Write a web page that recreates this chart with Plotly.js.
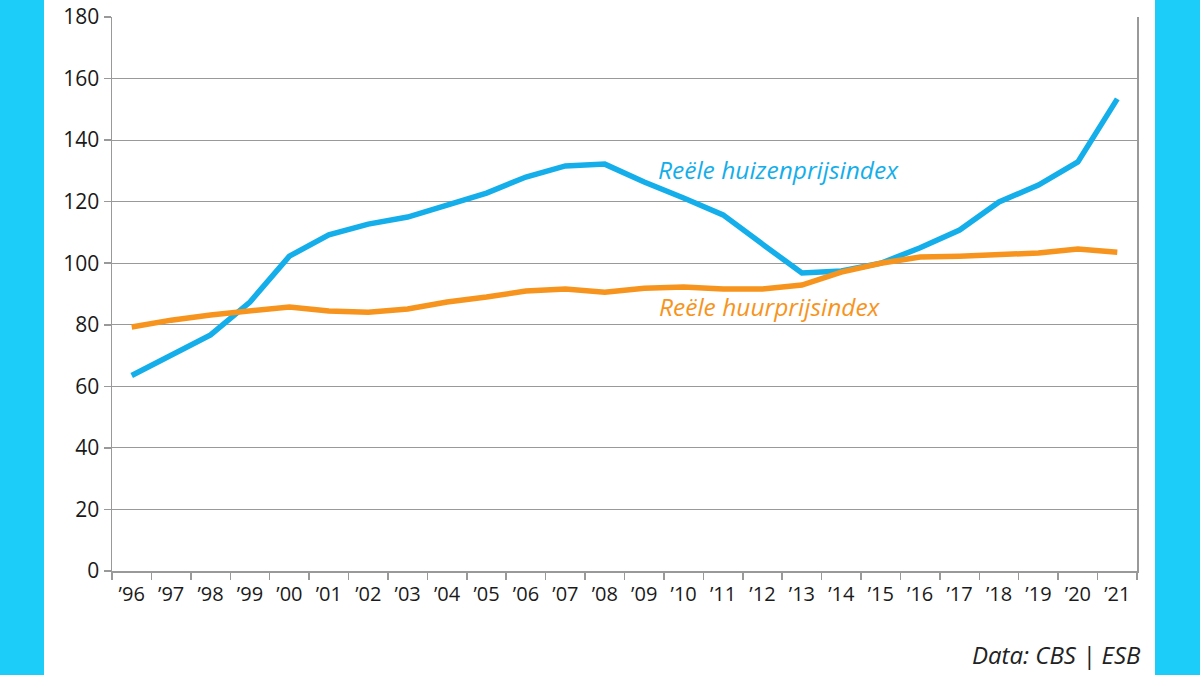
<!DOCTYPE html>
<html>
<head>
<meta charset="utf-8">
<script src="https://cdn.plot.ly/plotly-3.0.1.min.js"></script>
<style>
  html, body { margin: 0; padding: 0; background: #ffffff; }
  #wrap { position: relative; width: 1200px; height: 675px; overflow: hidden; }
  #chart { position: absolute; left: 0; top: 0; width: 1200px; height: 675px; }
  .band { position: absolute; top: 0; height: 675px; background: #1ccdfa; }
</style>
</head>
<body>
<div id="wrap">
  <div id="chart"></div>
  <div class="band" style="left:0; width:44px;"></div>
  <div class="band" style="left:1155px; width:45px;"></div>
</div>
<script>
const years = ["’96","’97","’98","’99","’00","’01","’02","’03","’04","’05","’06","’07","’08","’09","’10","’11","’12","’13","’14","’15","’16","’17","’18","’19","’20","’21"];
const huizenprijs = [63.5, 70, 76.7, 87.4, 102.3, 109.2, 112.7, 115, 119, 122.8, 128, 131.6, 132.2, 126.4, 121.2, 115.7, 106.2, 96.8, 97.5, 100, 105, 110.8, 119.9, 125.4, 132.9, 153.4];
const huurprijs = [79.3, 81.5, 83.2, 84.5, 85.8, 84.5, 84.1, 85.1, 87.4, 89, 91, 91.6, 90.6, 91.9, 92.3, 91.6, 91.6, 92.9, 97.1, 100, 102, 102.3, 103, 103.3, 104.6, 103.6];
const yTicks = [0, 20, 40, 60, 80, 100, 120, 140, 160, 180];

const blue = '#14aeea';
const orange = '#f7941d';

const traces = [
  { x: years, y: huizenprijs, type: 'scatter', mode: 'lines', name: 'Reële huizenprijsindex',
    line: { color: blue, width: 5.5 } },
  { x: years, y: huurprijs, type: 'scatter', mode: 'lines', name: 'Reële huurprijsindex',
    line: { color: orange, width: 5.5 } }
];

const layout = {
  width: 1200, height: 675,
  margin: { l: 112, r: 63, t: 17, b: 104 },
  paper_bgcolor: '#ffffff', plot_bgcolor: '#ffffff',
  showlegend: false,
  font: { family: 'Open Sans, sans-serif', color: '#1a1a1a' },
  xaxis: {
    type: 'category', range: [-0.5, 25.5],
    tickson: 'boundaries', ticks: 'outside', ticklen: 7, tickcolor: '#999999', tickwidth: 1.5,
    ticklabelstandoff: 4,
    showline: true, linecolor: '#999999', linewidth: 1.5,
    showgrid: false, zeroline: false,
    tickfont: { size: 20, color: '#1a1a1a' },
    fixedrange: true
  },
  yaxis: {
    range: [0, 180], tickvals: yTicks, ticktext: yTicks.map(String),
    ticks: 'outside', ticklen: 7, tickcolor: '#999999', tickwidth: 1.5,
    showline: true, mirror: true, linecolor: '#999999', linewidth: 1.5,
    showgrid: true, gridcolor: '#999999', gridwidth: 1.2,
    zeroline: false,
    tickfont: { size: 21, color: '#1a1a1a' },
    fixedrange: true
  },
  annotations: [
    { text: 'Reële huizenprijsindex', xref: 'paper', yref: 'y', x: 0.531, y: 130.3,
      xanchor: 'left', yanchor: 'middle', showarrow: false,
      font: { size: 24.5, color: blue, style: 'italic' } },
    { text: 'Reële huurprijsindex', xref: 'paper', yref: 'y', x: 0.532, y: 85.8,
      xanchor: 'left', yanchor: 'middle', showarrow: false,
      font: { size: 24.5, color: orange, style: 'italic' } },
    { text: 'Data: CBS | ESB', xref: 'paper', yref: 'paper', x: 1.0055, y: -0.1516,
      xanchor: 'right', yanchor: 'middle', showarrow: false,
      font: { size: 24, color: '#222222', style: 'italic' } }
  ]
};

Plotly.newPlot('chart', traces, layout, { displayModeBar: false, staticPlot: true });
</script>
</body>
</html>
